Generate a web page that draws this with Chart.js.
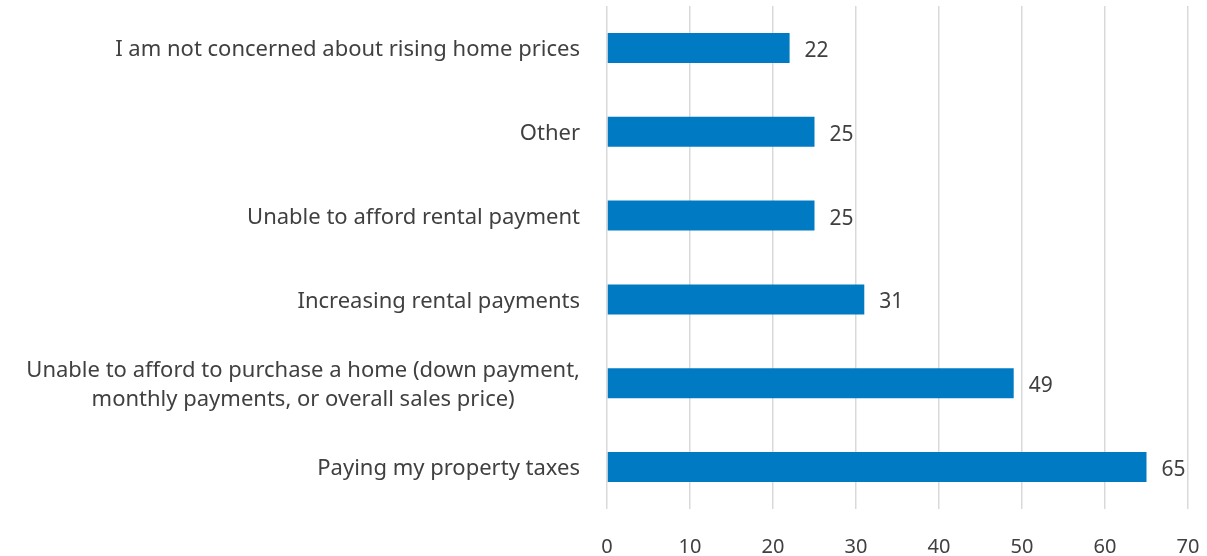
<!DOCTYPE html>
<html lang="en">
<head>
  <meta charset="UTF-8" />
  <title>Housing concerns</title>
  <style>
    body {
      margin: 0;
      background-color: white;
      overflow: hidden;
    }
    #wrap {
      width: 1207px;
      height: 556px;
    }
  </style>
</head>
<body>
  <div id="wrap"><canvas id="chart"></canvas></div>

  <script src="https://cdn.jsdelivr.net/npm/chart.js"></script>
  <script>
    const categories = [
      "I am not concerned about rising home prices",
      "Other",
      "Unable to afford rental payment",
      "Increasing rental payments",
      ["Unable to afford to purchase a home (down payment,", "monthly payments, or overall sales price)"],
      "Paying my property taxes"
    ];
    const values = [22, 25, 25, 31, 49, 65];
    const xTicks = [0, 10, 20, 30, 40, 50, 60, 70];

    const FONT = "'Noto Sans', sans-serif";
    const TEXT = '#404040';

    // value labels to the right of each bar
    const valueLabels = {
      id: 'valueLabels',
      afterDatasetsDraw(chart) {
        const c = chart.ctx;
        const meta = chart.getDatasetMeta(0);
        c.save();
        c.font = '21px ' + FONT;
        c.fillStyle = TEXT;
        c.textAlign = 'left';
        c.textBaseline = 'middle';
        meta.data.forEach((bar, i) => {
          c.fillText(values[i], bar.x + 15, bar.y + 3);
        });
        c.restore();
      }
    };

    // category labels: block right-aligned to the axis, lines centred inside the block (like Excel)
    const categoryLabels = {
      id: 'categoryLabels',
      afterDraw(chart) {
        const c = chart.ctx;
        const yScale = chart.scales.y;
        const right = yScale.right - 27;
        const lh = 29;
        c.save();
        c.font = '22px ' + FONT;
        c.fillStyle = TEXT;
        c.textAlign = 'center';
        c.textBaseline = 'middle';
        categories.forEach((lab, i) => {
          const lines = Array.isArray(lab) ? lab : [lab];
          const w = Math.max(...lines.map(l => c.measureText(l).width));
          const y = yScale.getPixelForValue(i);
          const y0 = y - (lines.length - 1) * lh / 2 + 2;
          lines.forEach((l, k) => c.fillText(l, right - w / 2, y0 + k * lh));
        });
        c.restore();
      }
    };

    const ctx = document.getElementById('chart').getContext('2d');
    new Chart(ctx, {
      type: 'bar',
      data: {
        labels: categories,
        datasets: [{
          data: values,
          backgroundColor: '#007BC3',
          barPercentage: 0.358,
          categoryPercentage: 1
        }]
      },
      options: {
        indexAxis: 'y',
        responsive: true,
        maintainAspectRatio: false,
        animation: false,
        layout: { padding: { top: 6, right: 19, bottom: 0, left: 0 } },
        plugins: {
          legend: { display: false },
          tooltip: { enabled: false }
        },
        scales: {
          x: {
            min: 0,
            max: 70,
            afterBuildTicks: (axis) => { axis.ticks = xTicks.map(v => ({ value: v })); },
            afterFit: (axis) => {
              axis.height = 47;
              axis.paddingLeft = 0;
              axis.paddingRight = 0;
            },
            grid: { color: '#d9d9d9', lineWidth: 1.5, drawTicks: false },
            border: { display: false },
            ticks: { color: TEXT, font: { family: FONT, size: 20 }, padding: 26 }
          },
          y: {
            afterFit: (axis) => {
              axis.width = 607;
              axis.paddingTop = 0;
              axis.paddingBottom = 0;
            },
            grid: { display: false },
            border: { display: false },
            ticks: { display: false }
          }
        }
      },
      plugins: [valueLabels, categoryLabels]
    });
  </script>
</body>
</html>
